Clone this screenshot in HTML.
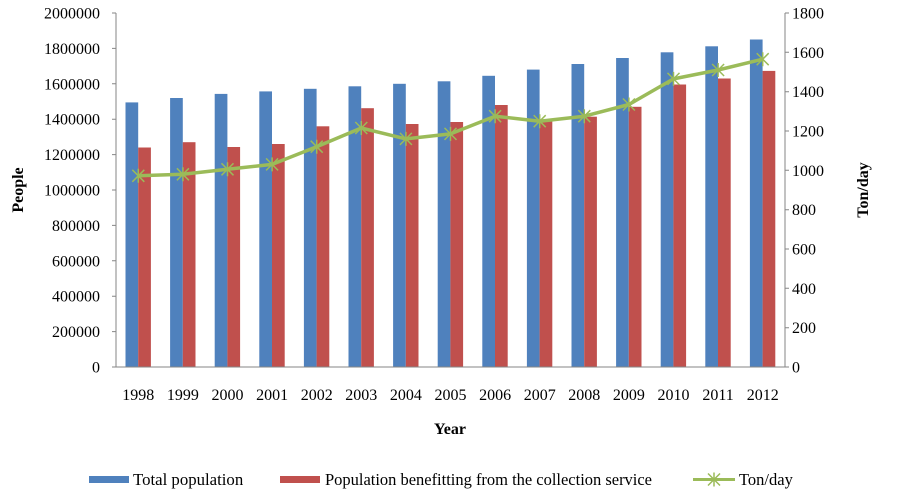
<!DOCTYPE html>
<html><head><style>body{margin:0;background:#fff}svg{display:block}</style></head><body>
<svg width="902" height="493" xmlns="http://www.w3.org/2000/svg" font-family="Liberation Serif, serif" font-size="16">
<defs><path id="m" d="M-6,-6L6,6M-6,6L6,-6M0,-7L0,7" stroke="#9bbb59" stroke-width="1.5"/></defs>
<g fill="#4f81bd">
<rect x="125.5" y="102.4" width="12.7" height="264.6"/>
<rect x="170.1" y="98.0" width="12.7" height="269.0"/>
<rect x="214.7" y="93.9" width="12.7" height="273.1"/>
<rect x="259.3" y="91.4" width="12.7" height="275.6"/>
<rect x="303.9" y="88.8" width="12.7" height="278.2"/>
<rect x="348.5" y="86.3" width="12.7" height="280.7"/>
<rect x="393.1" y="83.8" width="12.7" height="283.2"/>
<rect x="437.7" y="81.3" width="12.7" height="285.7"/>
<rect x="482.3" y="75.8" width="12.7" height="291.2"/>
<rect x="526.9" y="69.6" width="12.7" height="297.4"/>
<rect x="571.5" y="64.0" width="12.7" height="303.0"/>
<rect x="616.1" y="58.0" width="12.7" height="309.0"/>
<rect x="660.7" y="52.3" width="12.7" height="314.7"/>
<rect x="705.3" y="46.3" width="12.7" height="320.7"/>
<rect x="749.9" y="39.5" width="12.7" height="327.5"/>
</g>
<g fill="#c0504d">
<rect x="138.2" y="147.5" width="12.7" height="219.5"/>
<rect x="182.8" y="142.2" width="12.7" height="224.8"/>
<rect x="227.4" y="147.0" width="12.7" height="220.0"/>
<rect x="272.0" y="144.0" width="12.7" height="223.0"/>
<rect x="316.6" y="126.3" width="12.7" height="240.7"/>
<rect x="361.2" y="108.2" width="12.7" height="258.8"/>
<rect x="405.8" y="124.0" width="12.7" height="243.0"/>
<rect x="450.4" y="122.0" width="12.7" height="245.0"/>
<rect x="495.0" y="105.0" width="12.7" height="262.0"/>
<rect x="539.6" y="120.8" width="12.7" height="246.2"/>
<rect x="584.2" y="116.7" width="12.7" height="250.3"/>
<rect x="628.8" y="106.8" width="12.7" height="260.2"/>
<rect x="673.4" y="84.5" width="12.7" height="282.5"/>
<rect x="718.0" y="78.5" width="12.7" height="288.5"/>
<rect x="762.6" y="70.9" width="12.7" height="296.1"/>
</g>
<polyline fill="none" stroke="#9bbb59" stroke-width="3.5" stroke-linejoin="round" points="138.3,175.8 182.9,174.3 227.5,169.3 272.1,164.4 316.7,146.7 361.3,128.0 405.9,138.9 450.5,133.9 495.1,116.2 539.7,121.2 584.3,116.2 628.9,104.5 673.5,78.9 718.1,70.0 762.7,59.2"/>
<use href="#m" x="138.3" y="175.8"/><use href="#m" x="182.9" y="174.3"/><use href="#m" x="227.5" y="169.3"/><use href="#m" x="272.1" y="164.4"/><use href="#m" x="316.7" y="146.7"/><use href="#m" x="361.3" y="128.0"/><use href="#m" x="405.9" y="138.9"/><use href="#m" x="450.5" y="133.9"/><use href="#m" x="495.1" y="116.2"/><use href="#m" x="539.7" y="121.2"/><use href="#m" x="584.3" y="116.2"/><use href="#m" x="628.9" y="104.5"/><use href="#m" x="673.5" y="78.9"/><use href="#m" x="718.1" y="70.0"/><use href="#m" x="762.7" y="59.2"/>
<g stroke="#868686">
<line x1="116" y1="13" x2="116" y2="367"/>
<line x1="785" y1="13" x2="785" y2="367"/>
<line x1="116" y1="367" x2="785" y2="367"/>
<path d="M112,367H116M112,331.6H116M112,296.2H116M112,260.8H116M112,225.4H116M112,190H116M112,154.6H116M112,119.2H116M112,83.8H116M112,48.4H116M112,13H116"/>
<path d="M785,367H789M785,327.7H789M785,288.3H789M785,249H789M785,209.7H789M785,170.3H789M785,131H789M785,91.7H789M785,52.3H789M785,13H789"/>
</g>
<g text-anchor="end">
<text x="100" y="372.5">0</text><text x="100" y="337.1">200000</text><text x="100" y="301.7">400000</text><text x="100" y="266.3">600000</text><text x="100" y="230.9">800000</text><text x="100" y="195.5">1000000</text><text x="100" y="160.1">1200000</text><text x="100" y="124.7">1400000</text><text x="100" y="89.3">1600000</text><text x="100" y="53.9">1800000</text><text x="100" y="18.5">2000000</text>
</g>
<g>
<text x="792" y="372.5">0</text><text x="792" y="333.2">200</text><text x="792" y="293.8">400</text><text x="792" y="254.5">600</text><text x="792" y="215.2">800</text><text x="792" y="175.8">1000</text><text x="792" y="136.5">1200</text><text x="792" y="97.2">1400</text><text x="792" y="57.8">1600</text><text x="792" y="18.5">1800</text>
</g>
<g text-anchor="middle">
<text x="138.3" y="400">1998</text><text x="182.9" y="400">1999</text><text x="227.5" y="400">2000</text><text x="272.1" y="400">2001</text><text x="316.7" y="400">2002</text><text x="361.3" y="400">2003</text><text x="405.9" y="400">2004</text><text x="450.5" y="400">2005</text><text x="495.1" y="400">2006</text><text x="539.7" y="400">2007</text><text x="584.3" y="400">2008</text><text x="628.9" y="400">2009</text><text x="673.5" y="400">2010</text><text x="718.1" y="400">2011</text><text x="762.7" y="400">2012</text>
</g>
<text transform="translate(23,190) rotate(-90)" text-anchor="middle" font-weight="bold">People</text>
<text transform="translate(868,190) rotate(-90)" text-anchor="middle" font-weight="bold">Ton/day</text>
<text x="450" y="434" text-anchor="middle" font-weight="bold">Year</text>
<rect x="89" y="476" width="40" height="7" fill="#4f81bd"/>
<text x="133" y="485" font-size="16.8">Total population</text>
<rect x="280" y="476" width="40" height="7" fill="#c0504d"/>
<text x="325" y="485" font-size="16.5" textLength="327">Population benefitting from the collection service</text>
<line x1="693" y1="479.5" x2="735" y2="479.5" stroke="#9bbb59" stroke-width="3"/>
<use href="#m" x="714" y="479.5"/>
<text x="739" y="485" font-size="16.5">Ton/day</text>
</svg>
</body></html>
